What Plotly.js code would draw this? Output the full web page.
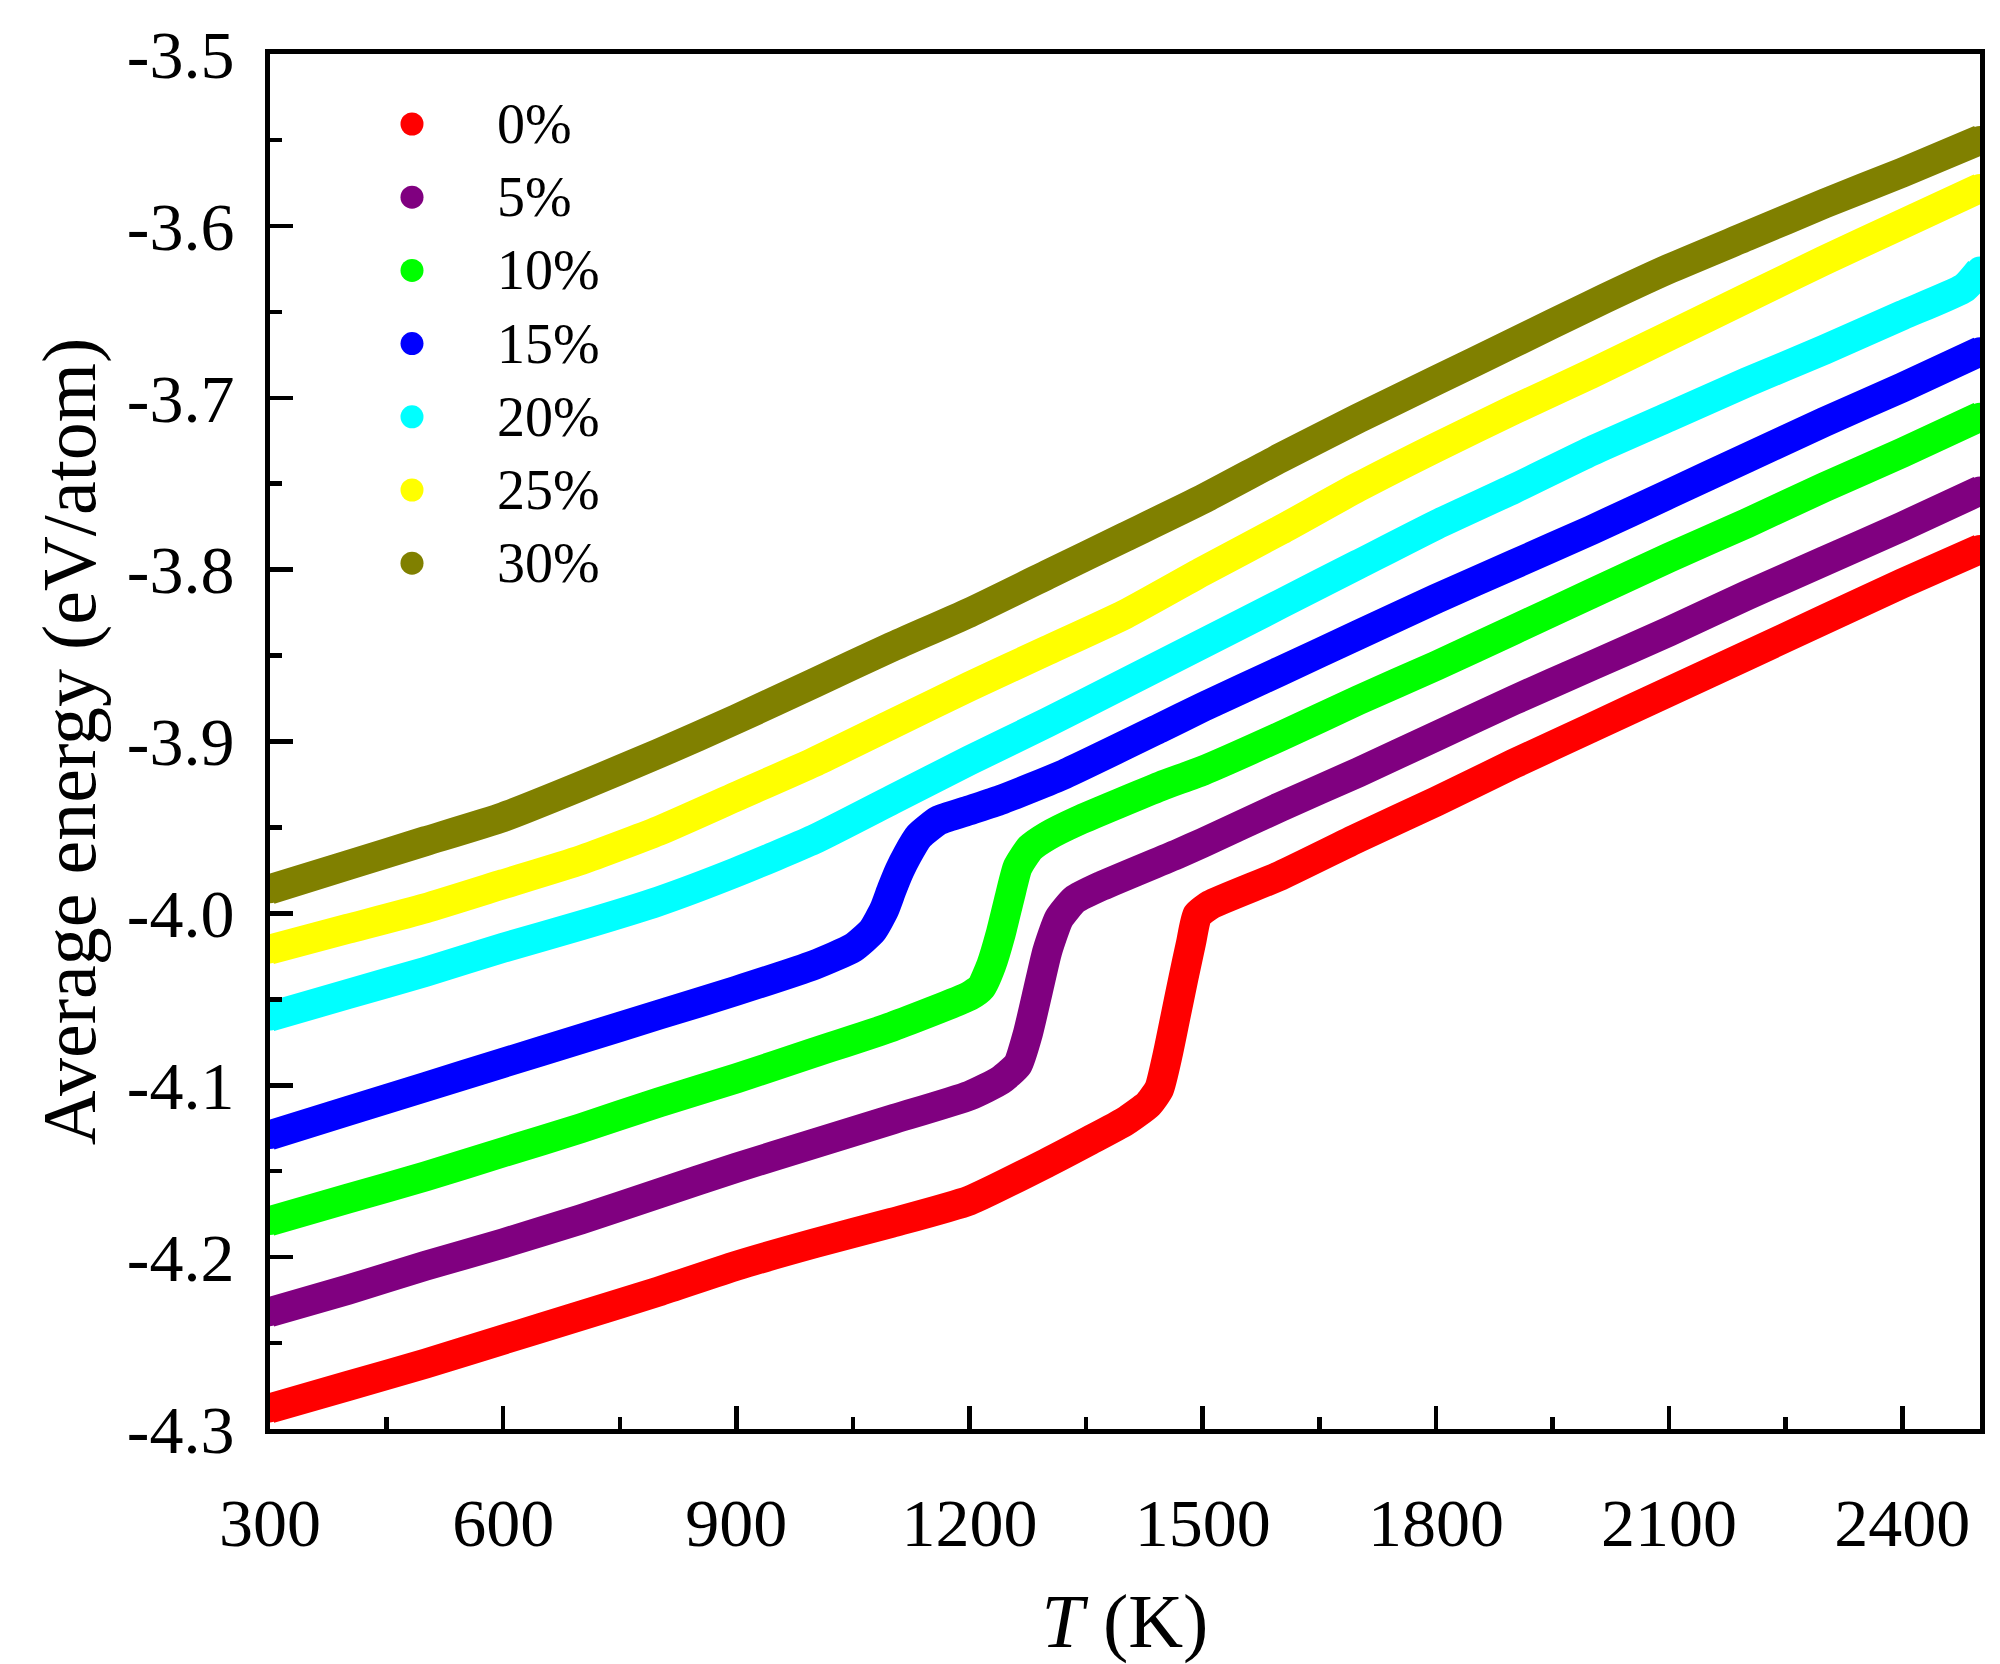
<!DOCTYPE html>
<html>
<head>
<meta charset="utf-8">
<script src="https://cdn.plot.ly/plotly-3.0.1.min.js"></script>
<style>html,body{margin:0;padding:0;background:#fff;}#chart{width:2000px;height:1664px;}</style>
</head>
<body>
<div id="chart"></div>
<script>
// ---- Data ----
var seriesNames = ["0%", "5%", "10%", "15%", "20%", "25%", "30%"];
var seriesColors = ["#FF0000", "#800080", "#00FF00", "#0000FF", "#00FFFF", "#FFFF00", "#808000"];

var T_0 = [300,400,500,600,700,800,900,1000,1100,1200,1300,1355,1400,1430,1444,1455,1465,1475,1485,1493,1510,1600,1700,1800,1900,2000,2100,2200,2300,2400,2500];
var E_0 = [-4.288,-4.275,-4.262,-4.248,-4.234,-4.220,-4.205,-4.192,-4.180,-4.167,-4.145,-4.132,-4.121,-4.111,-4.102,-4.082,-4.060,-4.038,-4.017,-4.001,-3.995,-3.978,-3.956,-3.935,-3.913,-3.892,-3.871,-3.850,-3.829,-3.808,-3.788];

var T_5 = [300,400,500,600,700,800,900,1000,1100,1200,1240,1262,1275,1288,1300,1315,1335,1370,1470,1500,1600,1700,1800,1900,2000,2100,2200,2300,2400,2500];
var E_5 = [-4.232,-4.219,-4.205,-4.192,-4.178,-4.163,-4.148,-4.134,-4.120,-4.106,-4.097,-4.088,-4.070,-4.045,-4.022,-4.003,-3.992,-3.984,-3.965,-3.959,-3.938,-3.918,-3.897,-3.876,-3.856,-3.836,-3.815,-3.795,-3.775,-3.754];

var T_10 = [300,400,500,600,700,800,900,1000,1100,1200,1215,1228,1240,1252,1262,1278,1300,1340,1446,1500,1600,1700,1800,1900,2000,2100,2200,2300,2400,2500];
var E_10 = [-4.179,-4.166,-4.153,-4.139,-4.125,-4.110,-4.096,-4.081,-4.066,-4.048,-4.043,-4.030,-4.012,-3.990,-3.973,-3.962,-3.955,-3.946,-3.926,-3.917,-3.897,-3.876,-3.856,-3.835,-3.814,-3.793,-3.773,-3.752,-3.732,-3.711];

var T_15 = [300,400,500,600,700,800,900,1000,1050,1075,1090,1100,1110,1120,1135,1160,1200,1240,1322,1446,1500,1600,1700,1800,1900,2000,2100,2200,2300,2400,2500];
var E_15 = [-4.129,-4.115,-4.101,-4.087,-4.073,-4.059,-4.045,-4.030,-4.020,-4.010,-3.998,-3.986,-3.975,-3.966,-3.955,-3.946,-3.940,-3.934,-3.919,-3.892,-3.880,-3.859,-3.838,-3.817,-3.797,-3.777,-3.756,-3.735,-3.714,-3.694,-3.673];

var T_20 = [300,400,500,600,700,800,900,1000,1100,1200,1300,1400,1500,1600,1700,1800,1900,2000,2100,2200,2300,2400,2480,2500];
var E_20 = [-4.060,-4.047,-4.034,-4.020,-4.007,-3.993,-3.976,-3.957,-3.934,-3.911,-3.889,-3.866,-3.843,-3.820,-3.797,-3.774,-3.753,-3.731,-3.711,-3.691,-3.672,-3.652,-3.636,-3.626];

var T_25 = [300,400,500,600,700,800,900,1000,1100,1200,1300,1400,1500,1600,1700,1800,1900,2000,2100,2200,2300,2400,2500];
var E_25 = [-4.021,-4.009,-3.997,-3.983,-3.969,-3.952,-3.932,-3.912,-3.890,-3.868,-3.847,-3.826,-3.801,-3.777,-3.752,-3.729,-3.707,-3.686,-3.664,-3.642,-3.620,-3.599,-3.578];

var T_30 = [300,400,500,600,700,800,900,1000,1100,1200,1300,1400,1500,1600,1700,1800,1900,2000,2100,2200,2300,2400,2500];
var E_30 = [-3.986,-3.972,-3.958,-3.944,-3.926,-3.907,-3.887,-3.866,-3.845,-3.825,-3.803,-3.781,-3.759,-3.735,-3.712,-3.690,-3.668,-3.646,-3.625,-3.606,-3.587,-3.569,-3.550];

var xTickVals = [300, 600, 900, 1200, 1500, 1800, 2100, 2400];
var xTickText = ["300", "600", "900", "1200", "1500", "1800", "2100", "2400"];
var yTickVals = [-4.3, -4.2, -4.1, -4.0, -3.9, -3.8, -3.7, -3.6, -3.5];
var yTickText = ["-4.3", "-4.2", "-4.1", "-4.0", "-3.9", "-3.8", "-3.7", "-3.6", "-3.5"];

// ---- Build traces ----
var allT = [T_0, T_5, T_10, T_15, T_20, T_25, T_30];
var allE = [E_0, E_5, E_10, E_15, E_20, E_25, E_30];
var FONT = "Liberation Serif, Times New Roman, serif";
var LW = 30;

var traces = [];
for (var i = 0; i < seriesNames.length; i++) {
  traces.push({
    type: "scatter",
    mode: "lines+markers",
    name: seriesNames[i],
    x: allT[i],
    y: allE[i],
    line: {color: seriesColors[i], width: LW, shape: "spline", smoothing: 0.5},
    marker: {color: seriesColors[i], size: LW - 2, line: {width: 0}},
    showlegend: false,
    hoverinfo: "x+y+name"
  });
}

// ---- Custom legend (large round markers as in the reference) ----
var W = 2000, H = 1664;
var ml = 270, mr = 20, mt = 54, mb = 235;
var pw = W - ml - mr, ph = H - mt - mb;
var legX = 412, legTextX = 495, legY0 = 124, legDY = 73.2, legR = 11.5;
var shapes = [], annotations = [];
for (var j = 0; j < seriesNames.length; j++) {
  var py = legY0 + j * legDY;
  var yp = (H - mb - py) / ph;
  var xp = (legX - ml) / pw;
  shapes.push({
    type: "circle", xref: "paper", yref: "paper",
    xsizemode: "pixel", ysizemode: "pixel",
    xanchor: xp, yanchor: yp,
    x0: -legR, x1: legR, y0: -legR, y1: legR,
    fillcolor: seriesColors[j], line: {width: 0}
  });
  annotations.push({
    xref: "paper", yref: "paper",
    x: (legTextX - ml) / pw, y: yp,
    xanchor: "left", yanchor: "middle",
    showarrow: false,
    text: seriesNames[j],
    font: {family: FONT, size: 56, color: "#000"}
  });
}

var layout = {
  width: W, height: H,
  margin: {l: ml, r: mr, t: mt, b: mb, pad: 0},
  paper_bgcolor: "#fff", plot_bgcolor: "#fff",
  showlegend: false,
  font: {family: FONT, color: "#000"},
  xaxis: {
    range: [300, 2500],
    tickvals: xTickVals, ticktext: xTickText,
    ticks: "inside", ticklen: 23, tickwidth: 4.5, tickcolor: "#000",
    minor: {dtick: 150, tick0: 300, ticks: "inside", ticklen: 12, tickwidth: 4.5, tickcolor: "#000", showgrid: false},
    showline: true, linewidth: 5, linecolor: "#000", mirror: true,
    showgrid: false, zeroline: false,
    tickfont: {family: FONT, size: 68, color: "#000"},
    ticklabelstandoff: 30,
    title: {text: "<i>T</i> (K)", font: {family: FONT, size: 76, color: "#000"}, standoff: 40}
  },
  yaxis: {
    range: [-4.3, -3.5],
    tickvals: yTickVals, ticktext: yTickText,
    ticks: "inside", ticklen: 23, tickwidth: 4.5, tickcolor: "#000",
    minor: {dtick: 0.05, tick0: -4.3, ticks: "inside", ticklen: 12, tickwidth: 4.5, tickcolor: "#000", showgrid: false},
    showline: true, linewidth: 5, linecolor: "#000", mirror: true,
    showgrid: false, zeroline: false,
    tickfont: {family: FONT, size: 68, color: "#000"},
    ticklabelstandoff: 17,
    title: {text: "Average energy (eV/atom)", font: {family: FONT, size: 76, color: "#000"}, standoff: 8}
  },
  shapes: shapes,
  annotations: annotations
};

Plotly.newPlot("chart", traces, layout, {staticPlot: true, displayModeBar: false});
</script>
</body>
</html>
